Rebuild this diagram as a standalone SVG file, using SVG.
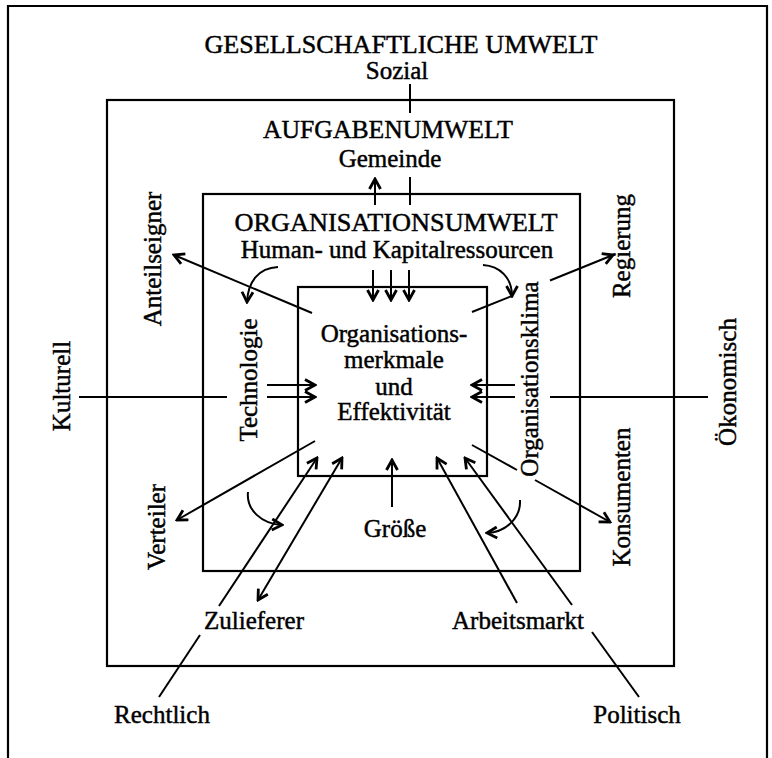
<svg xmlns="http://www.w3.org/2000/svg" width="772" height="758" viewBox="0 0 772 758">
<defs>
<marker id="ah" viewBox="0 0 14 14" refX="12" refY="7" markerWidth="14" markerHeight="14" markerUnits="userSpaceOnUse" orient="auto-start-reverse">
<path d="M2,1.5 L12,7 L2,12.5" fill="none" stroke="#000" stroke-width="2.8" stroke-linejoin="miter"/>
</marker>
<style>
text{font-family:"Liberation Serif","Times New Roman",serif;fill:#000;stroke:#000;stroke-width:0.45;text-anchor:middle}
.cap{font-size:26px}
.lbl{font-size:25px}
.frame{fill:none;stroke:#000;stroke-width:2.2}
.ln{fill:none;stroke:#000;stroke-width:2}
.ar{fill:none;stroke:#000;stroke-width:2;marker-end:url(#ah)}
.ar2{fill:none;stroke:#000;stroke-width:2;marker-start:url(#ah);marker-end:url(#ah)}
</style>
</defs>
<rect width="772" height="758" fill="#fff"/>

<g id="gesellschaftliche-umwelt">
<path class="frame" d="M8,770 V6 H767 V770"/>
<text class="cap" x="401" y="53" textLength="393" lengthAdjust="spacingAndGlyphs">GESELLSCHAFTLICHE UMWELT</text>
<text class="lbl" x="397" y="79">Sozial</text>
<text class="lbl" transform="translate(70,386) rotate(-90)">Kulturell</text>
<text class="lbl" transform="translate(736,382) rotate(-90)">Ökonomisch</text>
<text class="lbl" x="162" y="723">Rechtlich</text>
<text class="lbl" x="637" y="723">Politisch</text>
</g>

<g id="aufgabenumwelt">
<rect class="frame" x="107" y="100" width="567" height="566"/>
<text class="cap" x="388" y="138" textLength="250" lengthAdjust="spacingAndGlyphs">AUFGABENUMWELT</text>
<text class="lbl" x="390" y="167">Gemeinde</text>
<text class="lbl" transform="translate(161,259) rotate(-90)">Anteilseigner</text>
<text class="lbl" transform="translate(165,527) rotate(-90)">Verteiler</text>
<text class="lbl" transform="translate(630,246) rotate(-90)">Regierung</text>
<text class="lbl" transform="translate(630,497) rotate(-90)">Konsumenten</text>
<text class="lbl" x="254" y="629">Zulieferer</text>
<text class="lbl" x="518" y="629">Arbeitsmarkt</text>
</g>

<g id="organisationsumwelt">
<rect class="frame" x="203" y="194" width="377" height="377"/>
<text class="cap" x="396" y="231" textLength="323" lengthAdjust="spacingAndGlyphs">ORGANISATIONSUMWELT</text>
<text class="lbl" x="397" y="258">Human- und Kapitalressourcen</text>
<text class="lbl" transform="translate(257,380) rotate(-90)">Technologie</text>
<text class="lbl" transform="translate(538,379) rotate(-90)">Organisationsklima</text>
<text class="lbl" x="395" y="537">Größe</text>
</g>

<g id="organisationsmerkmale">
<rect class="frame" x="298" y="287" width="189" height="189"/>
<text class="lbl" x="394" y="342">Organisations-</text>
<text class="lbl" x="394" y="368">merkmale</text>
<text class="lbl" x="394" y="395">und</text>
<text class="lbl" x="394" y="420">Effektivität</text>
</g>

<g id="connectors">
<line class="ln" x1="410" y1="84" x2="410" y2="113"/>
<line class="ln" x1="410" y1="177" x2="410" y2="205"/>
<line class="ar" x1="375" y1="205" x2="375" y2="179"/>
<line class="ar" x1="373" y1="270" x2="373" y2="300"/>
<line class="ar" x1="391" y1="270" x2="391" y2="300"/>
<line class="ar" x1="409" y1="270" x2="409" y2="300"/>
<line class="ar" x1="312" y1="313" x2="174" y2="255"/>
<line class="ln" x1="472" y1="312" x2="513" y2="295.5"/>
<line class="ar" x1="550" y1="280.5" x2="613" y2="255"/>
<path class="ar" d="M278,267 C258,268 248,282 247,302"/>
<path class="ar" d="M483,265 C500,266 512,278 512,296"/>
<line class="ln" x1="79" y1="397" x2="227" y2="397"/>
<line class="ar" x1="267" y1="385" x2="315" y2="385"/>
<line class="ar" x1="267" y1="397" x2="315" y2="397"/>
<line class="ar" x1="515" y1="385" x2="472" y2="385"/>
<line class="ar" x1="515" y1="397" x2="472" y2="397"/>
<line class="ln" x1="550" y1="397" x2="708" y2="397"/>
<line class="ar" x1="315" y1="441" x2="177" y2="520"/>
<line class="ln" x1="472" y1="445" x2="517" y2="470"/>
<line class="ar" x1="535" y1="480" x2="610" y2="522"/>
<path class="ar" d="M248,492 C246,510 262,524 282,525"/>
<path class="ar" d="M520,500 C521,518 506,532 487,533"/>
<line class="ln" x1="159" y1="697" x2="200" y2="635"/>
<line class="ar" x1="219" y1="606" x2="317" y2="458"/>
<line class="ar2" x1="258" y1="600" x2="342" y2="458"/>
<line class="ar" x1="392" y1="507" x2="392" y2="460"/>
<line class="ar" x1="517" y1="603" x2="437" y2="458"/>
<line class="ln" x1="639" y1="697" x2="592" y2="632"/>
<line class="ar" x1="572" y1="605" x2="465" y2="458"/>
</g>
</svg>
